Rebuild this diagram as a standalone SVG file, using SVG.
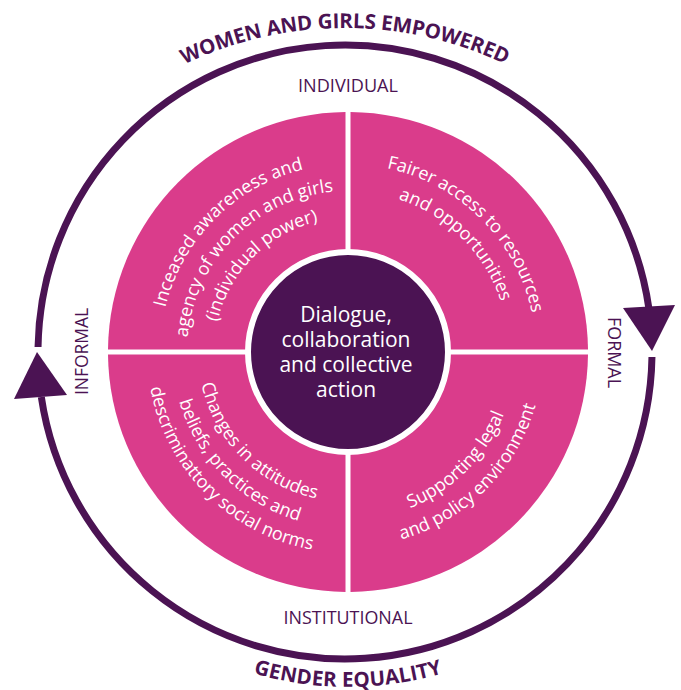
<svg xmlns="http://www.w3.org/2000/svg" xmlns:xlink="http://www.w3.org/1999/xlink" width="681" height="690" viewBox="0 0 681 690">
  <style>
    .quad { fill: #DA3C8B; }
    .qtext { fill: #ffffff; font-family: "Open Sans", "Noto Sans", sans-serif; font-size: 18px; }
    .ctext { fill: #ffffff; font-family: "Open Sans", "Noto Sans", sans-serif; font-size: 21px; text-anchor: middle; }
    .axis { fill: #4B1353; font-family: "Open Sans", "Noto Sans", sans-serif; font-size: 18px; text-anchor: middle; }
    .title { fill: #4B1353; font-family: "Open Sans", "Noto Sans", sans-serif; font-size: 20.5px; font-weight: 700; }
    .ring { fill: none; stroke: #4B1353; stroke-width: 7; }
    .head { fill: #4B1353; }
  </style>
  <defs>
    <!-- baselines for the curved wording (centre of the wheel at 348,352) -->
    <path id="tl1" d="M203.99,472.85 A188,188 0 0 1 468.85,207.99"/>
    <path id="tl2" d="M224.67,455.49 A161,161 0 0 1 451.49,228.67"/>
    <path id="tl3" d="M245.36,438.14 A134,134 0 0 1 434.14,249.36"/>
    <path id="tr1" d="M227.15,207.99 A188,188 0 0 1 492.01,472.85"/>
    <path id="tr2" d="M244.51,228.67 A161,161 0 0 1 471.33,455.49"/>
    <path id="bl1" d="M233.1,255.58 A150,150 0 0 0 444.42,466.9"/>
    <path id="bl2" d="M213.18,238.87 A176,176 0 0 0 461.13,486.82"/>
    <path id="bl3" d="M194.03,222.8 A201,201 0 0 0 477.2,505.97"/>
    <path id="br1" d="M240.01,480.69 A168,168 0 0 0 476.69,244.01"/>
    <path id="br2" d="M222.65,501.37 A195,195 0 0 0 497.37,226.65"/>
    <!-- title baselines -->
    <path id="topArc" d="M-5.5,273.4 A373,373 0 0 1 695.5,273.4"/>
    <path id="bottomArc" d="M32.3,465.9 A336,336 0 0 0 663.7,465.9"/>
  </defs>

  <!-- outer cycle: two arcs with arrowheads -->
  <g id="connectors">
    <path class="ring" d="M38.04,347 A307,307 0 0 1 648.83,308"/>
    <polygon class="head" points="652,351 623,308 675,305"/>
    <path class="ring" d="M651.96,357 A307,307 0 0 1 41.32,397"/>
    <polygon class="head" points="37,352 14,399 67,395"/>
  </g>

  <g id="title-top">
    <text class="title"><textPath xlink:href="#topArc" href="#topArc" startOffset="50%" text-anchor="middle" textLength="332">WOMEN AND GIRLS EMPOWERED</textPath></text>
  </g>
  <g id="title-bottom">
    <text class="title"><textPath xlink:href="#bottomArc" href="#bottomArc" startOffset="50%" text-anchor="middle" textLength="192">GENDER EQUALITY</textPath></text>
  </g>

  <g id="label-individual"><text class="axis" x="348" y="92" textLength="100" lengthAdjust="spacingAndGlyphs">INDIVIDUAL</text></g>
  <g id="label-institutional"><text class="axis" x="348" y="624" textLength="129" lengthAdjust="spacingAndGlyphs">INSTITUTIONAL</text></g>
  <g id="label-informal"><text class="axis" transform="translate(88,351.5) rotate(-90)" x="0" y="0" textLength="87" lengthAdjust="spacingAndGlyphs">INFORMAL</text></g>
  <g id="label-formal"><text class="axis" transform="translate(608,352.5) rotate(90)" x="0" y="0" textLength="71" lengthAdjust="spacingAndGlyphs">FORMAL</text></g>

  <g id="quad-individual-power">
    <path class="quad" d="M345.5,349.5 L345.5,112 A240,240 0 0 0 108,349.5 Z"/>
    <text class="qtext"><textPath href="#tl1" xlink:href="#tl1" startOffset="50%" text-anchor="middle">Inceased awareness and</textPath></text>
    <text class="qtext"><textPath href="#tl2" xlink:href="#tl2" startOffset="50%" text-anchor="middle">agency of women and girls</textPath></text>
    <text class="qtext"><textPath href="#tl3" xlink:href="#tl3" startOffset="50%" text-anchor="middle">(individual power)</textPath></text>
  </g>

  <g id="quad-resources">
    <path class="quad" d="M350.5,349.5 L588,349.5 A240,240 0 0 0 350.5,112 Z"/>
    <text class="qtext"><textPath href="#tr1" xlink:href="#tr1" startOffset="50%" text-anchor="middle">Fairer access to resources</textPath></text>
    <text class="qtext"><textPath href="#tr2" xlink:href="#tr2" startOffset="50%" text-anchor="middle">and opportunities</textPath></text>
  </g>

  <g id="quad-legal">
    <path class="quad" d="M350.5,354.5 L350.5,592 A240,240 0 0 0 588,354.5 Z"/>
    <text class="qtext"><textPath href="#br1" xlink:href="#br1" startOffset="50%" text-anchor="middle">Supporting legal</textPath></text>
    <text class="qtext"><textPath href="#br2" xlink:href="#br2" startOffset="50%" text-anchor="middle">and policy environment</textPath></text>
  </g>

  <g id="quad-norms">
    <path class="quad" d="M345.5,354.5 L108,354.5 A240,240 0 0 0 345.5,592 Z"/>
    <text class="qtext"><textPath href="#bl1" xlink:href="#bl1" startOffset="50%" text-anchor="middle">Changes in attitudes</textPath></text>
    <text class="qtext"><textPath href="#bl2" xlink:href="#bl2" startOffset="50%" text-anchor="middle">beliefs, practices and</textPath></text>
    <text class="qtext"><textPath href="#bl3" xlink:href="#bl3" startOffset="50%" text-anchor="middle">descriminattory social norms</textPath></text>
  </g>

  <g id="centre-dialogue">
    <circle cx="348" cy="352" r="100" fill="#4B1353" stroke="#ffffff" stroke-width="6"/>
    <text class="ctext" x="346" y="322">Dialogue,</text>
    <text class="ctext" x="346" y="347">collaboration</text>
    <text class="ctext" x="346" y="372">and collective</text>
    <text class="ctext" x="346" y="397">action</text>
  </g>
</svg>
